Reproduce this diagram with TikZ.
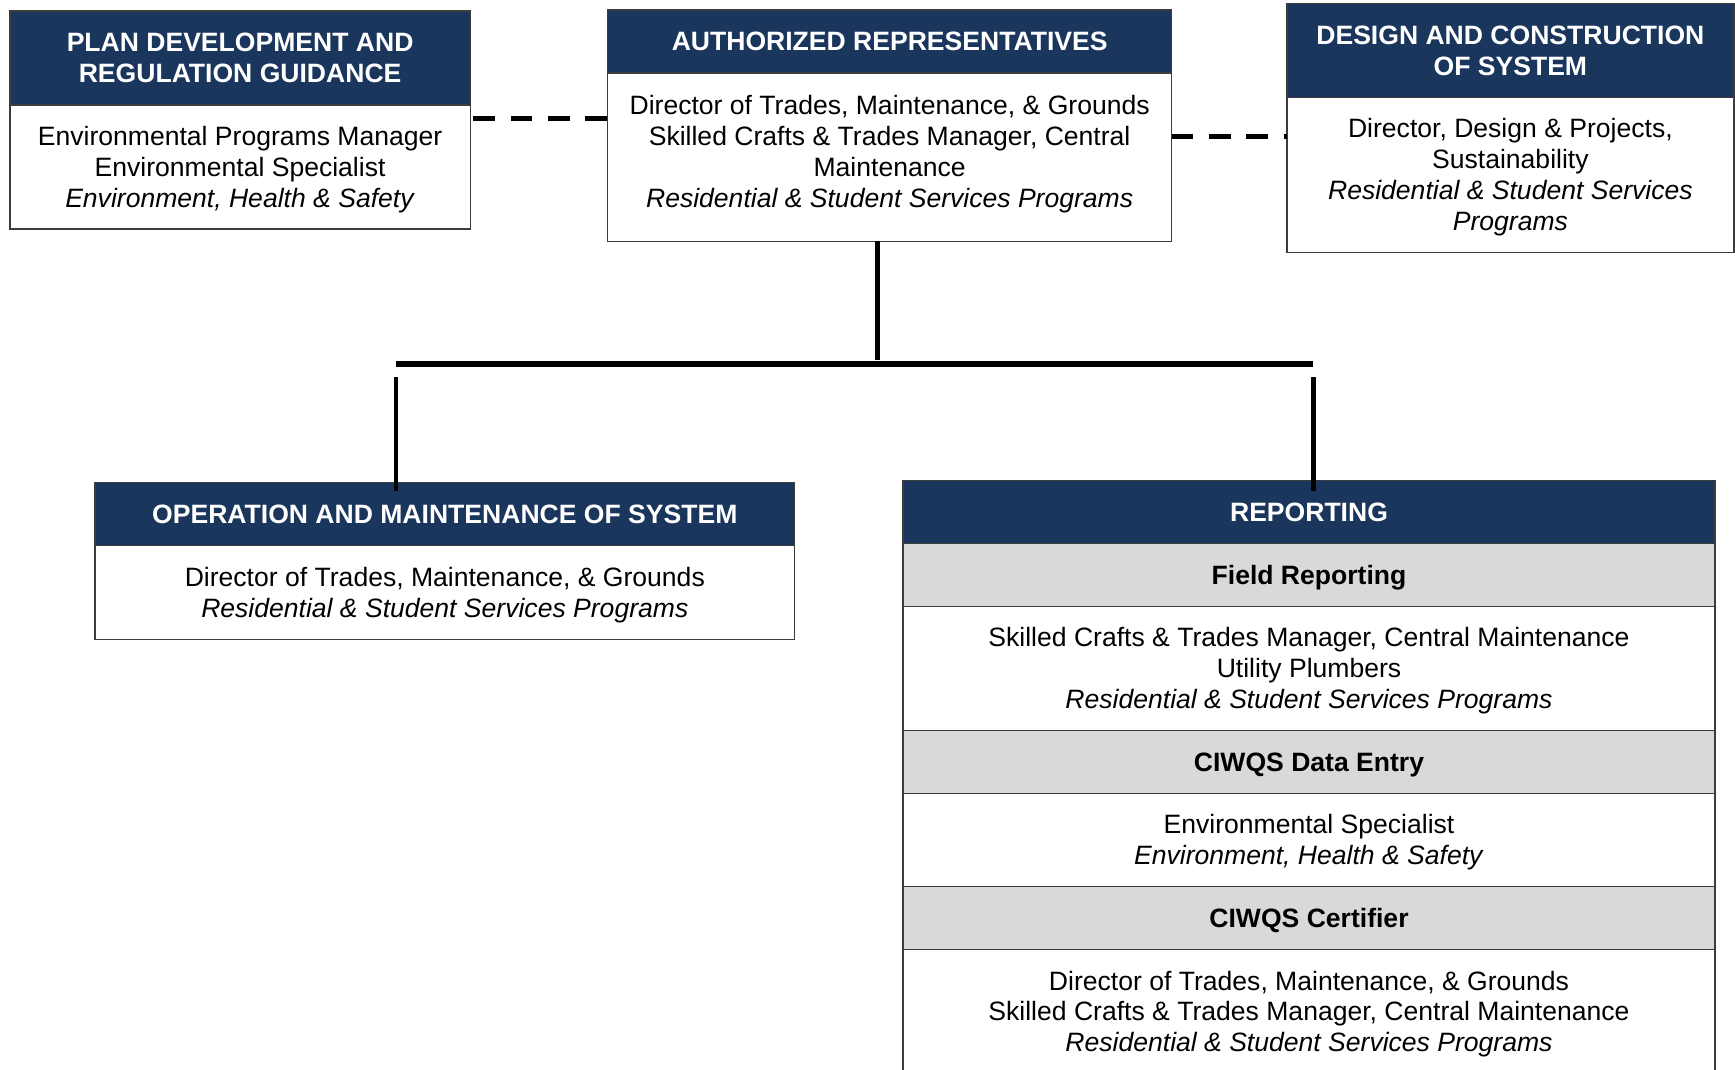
\documentclass[tikz,border=0pt]{standalone}
\usepackage{fontspec}
\setmainfont{Liberation Sans}
\definecolor{hdrblue}{RGB}{26,54,93}
\definecolor{subgray}{RGB}{217,217,217}
\definecolor{edgegray}{RGB}{60,60,60}
\begin{document}
\begin{tikzpicture}[x=1pt,y=-1pt,
  box/.style={draw=edgegray, line width=1.2pt, rectangle, inner sep=0pt, outer sep=0pt,
    anchor=north west, align=center, text depth=0pt, font=\fontsize{24pt}{28pt}\selectfont},
  hdr/.style={box, fill=hdrblue, text=white, font=\fontsize{24pt}{28pt}\selectfont\bfseries},
  subhdr/.style={box, fill=subgray, text=black, font=\fontsize{24pt}{28pt}\selectfont\bfseries},
  body/.style={box, fill=white},
  txt/.style={align=center, inner sep=0pt, text depth=0pt, font=\fontsize{24pt}{28pt}\selectfont},
  dashlink/.style={line width=4.6pt, dash pattern=on 19.6pt off 14.1pt},
  link/.style={line width=4pt},
  bar/.style={line width=5pt}]
\clip (0,0) rectangle (1568,967);
\fill[white] (0,0) rectangle (1568,967);

% Plan development
\node[hdr, minimum width=416pt, minimum height=85pt] (h1) at (9,10)
  {PLAN DEVELOPMENT AND\\REGULATION GUIDANCE};
\node[body, minimum width=416pt, minimum height=112pt] (b1) at (9,95)
  {Environmental Programs Manager\\Environmental Specialist\\\textit{Environment, Health \& Safety}};

% Authorized representatives
\node[hdr, minimum width=510pt, minimum height=57pt] (h2) at (549,9)
  {AUTHORIZED REPRESENTATIVES};
\node[body, minimum width=510pt, minimum height=152pt] (b2) at (549,66) {};
\node[txt] (t2) at ([yshift=5.5pt]b2.center)
  {Director of Trades, Maintenance, \& Grounds\\Skilled Crafts \& Trades Manager, Central\\Maintenance\\\textit{Residential \& Student Services Programs}};

% Design and construction
\node[hdr, minimum width=404pt, minimum height=85pt] (h3) at (1163,3)
  {DESIGN AND CONSTRUCTION\\OF SYSTEM};
\node[body, minimum width=404pt, minimum height=140pt] (b3) at (1163,88)
  {Director, Design \& Projects,\\Sustainability\\\textit{Residential \& Student Services}\\\textit{Programs}};

% Operation and maintenance
\node[hdr, minimum width=632pt, minimum height=57pt] (h4) at (86,436)
  {OPERATION AND MAINTENANCE OF SYSTEM};
\node[body, minimum width=632pt, minimum height=85pt] (b4) at (86,493)
  {Director of Trades, Maintenance, \& Grounds\\\textit{Residential \& Student Services Programs}};

% Reporting
\node[hdr, minimum width=734pt, minimum height=57pt] (h5) at (816,434) {REPORTING};
\node[subhdr, minimum width=734pt, minimum height=57pt] (s1) at (816,491) {Field Reporting};
\node[body, minimum width=734pt, minimum height=112pt] (r1) at (816,548)
  {Skilled Crafts \& Trades Manager, Central Maintenance\\Utility Plumbers\\\textit{Residential \& Student Services Programs}};
\node[subhdr, minimum width=734pt, minimum height=57pt] (s2) at (816,660) {CIWQS Data Entry};
\node[body, minimum width=734pt, minimum height=84pt] (r2) at (816,717)
  {Environmental Specialist\\\textit{Environment, Health \& Safety}};
\node[subhdr, minimum width=734pt, minimum height=57pt] (s3) at (816,801) {CIWQS Certifier};
\node[body, minimum width=734pt, minimum height=112pt] (r3) at (816,858)
  {Director of Trades, Maintenance, \& Grounds\\Skilled Crafts \& Trades Manager, Central Maintenance\\\textit{Residential \& Student Services Programs}};

% dashed links
\draw[dashlink, dash phase=31pt] (b1.east |- 0,107) -- (b2.west |- 0,107);
\draw[dashlink] (b2.east |- 0,123.5) -- (b3.west |- 0,123.5);

% tree connectors
\coordinate (topend) at (793,325);
\coordinate (barL) at (358,329);
\coordinate (barR) at (1187,329);
\coordinate (dropL) at (358,341);
\coordinate (dropR) at (1187,341);
\draw[link] (b2.south -| topend) -- (topend);
\draw[bar] (barL) -- (barR);
\draw[link] (dropL) -- (dropL |- 0,444);
\draw[link] (dropR) -- (dropR |- 0,444);
\end{tikzpicture}
\end{document}
